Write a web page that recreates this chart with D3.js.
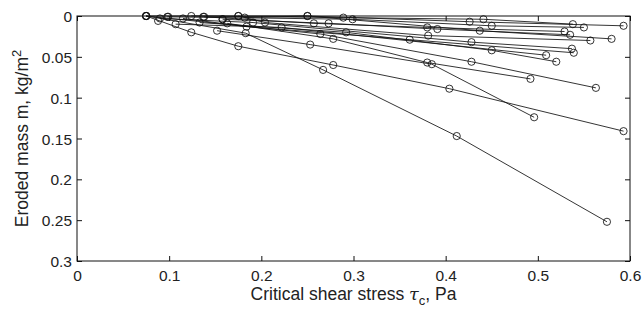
<!DOCTYPE html>
<html>
<head>
<meta charset="utf-8">
<script src="https://cdn.jsdelivr.net/npm/d3@7"></script>
<style>
  body { margin: 0; background: #fff; }
  text { font-family: "Liberation Sans", Arial, sans-serif; fill: #222; }
</style>
</head>
<body>
<svg id="chart"></svg>
<script>
var width = 644;
var height = 309;
var margin = { left: 77, right: 14, top: 16, bottom: 48 };

var xTicks = [0, 0.1, 0.2, 0.3, 0.4, 0.5, 0.6];
var yTicks = [0, 0.05, 0.1, 0.15, 0.2, 0.25, 0.3];

// critical shear stress (Pa) for each test, one array per sample
var tau = [
    [0.075, 0.250, 0.426, 0.593],
    [0.124, 0.289, 0.441, 0.538],
    [0.098, 0.299, 0.450, 0.550],
    [0.138, 0.257, 0.380, 0.529],
    [0.158, 0.273, 0.391, 0.535],
    [0.175, 0.204, 0.381, 0.557],
    [0.182, 0.250, 0.437, 0.580],
    [0.090, 0.191, 0.428, 0.537],
    [0.115, 0.184, 0.361, 0.539],
    [0.107, 0.222, 0.509],
    [0.133, 0.292, 0.450, 0.520],
    [0.163, 0.278, 0.380, 0.492],
    [0.075, 0.264, 0.428, 0.563],
    [0.152, 0.253, 0.385, 0.496],
    [0.075, 0.124, 0.175, 0.278, 0.404, 0.593],
    [0.075, 0.183, 0.267, 0.412, 0.575]
];

// eroded mass (kg/m2), same order
var mass = [
    [0.000, 0.000, 0.007, 0.012],
    [0.000, 0.002, 0.004, 0.010],
    [0.001, 0.004, 0.012, 0.014],
    [0.001, 0.009, 0.014, 0.019],
    [0.004, 0.009, 0.016, 0.023],
    [0.000, 0.008, 0.024, 0.030],
    [0.002, 0.000, 0.018, 0.028],
    [0.003, 0.008, 0.032, 0.040],
    [0.003, 0.013, 0.029, 0.045],
    [0.010, 0.014, 0.048],
    [0.008, 0.020, 0.042, 0.056],
    [0.009, 0.028, 0.057, 0.077],
    [0.000, 0.022, 0.056, 0.088],
    [0.018, 0.035, 0.059, 0.124],
    [0.000, 0.020, 0.037, 0.060, 0.089, 0.141],
    [0.000, 0.021, 0.066, 0.147, 0.252]
];

// a few extra single readings near the start
var tauStart = [0.088, 0.099, 0.137, 0.158, 0.175];
var massStart = [0.006, 0.001, 0.001, 0.004, 0.000];

var svg = d3.select('#chart')
    .attr('width', width)
    .attr('height', height);

var xs = d3.scaleLinear().domain([0, 0.6]).range([margin.left, width - margin.right]);
var ys = d3.scaleLinear().domain([0, 0.3]).range([margin.top, height - margin.bottom]);

var line = d3.line()
    .x(function (d) { return xs(d[0]); })
    .y(function (d) { return ys(d[1]); });

var series = tau.map(function (t, i) {
    return t.map(function (v, j) { return [v, mass[i][j]]; });
});

var plot = svg.append('g');

plot.selectAll('path.series').data(series)
    .enter()
    .append('path')
    .attr('class', 'series')
    .attr('d', line)
    .attr('fill', 'none')
    .attr('stroke', '#111')
    .attr('stroke-width', 0.85);

var pts = [];
series.forEach(function (s) { s.forEach(function (p) { pts.push(p); }); });
tauStart.forEach(function (v, i) { pts.push([v, massStart[i]]); });

plot.selectAll('circle').data(pts)
    .enter()
    .append('circle')
    .attr('cx', function (d) { return xs(d[0]); })
    .attr('cy', function (d) { return ys(d[1]); })
    .attr('r', 3.6)
    .attr('fill', 'none')
    .attr('stroke', '#111')
    .attr('stroke-width', 0.85);

// box axes, ticks pointing inward
var x0 = margin.left, x1 = width - margin.right;
var y0 = margin.top, y1 = height - margin.bottom;

var axBottom = svg.append('g')
    .attr('transform', 'translate(0,' + y1 + ')')
    .call(d3.axisBottom(xs).tickValues(xTicks).tickSize(-5).tickPadding(7)
        .tickFormat(function (d) { return d3.format('~g')(d); }));
var axTop = svg.append('g')
    .attr('transform', 'translate(0,' + y0 + ')')
    .call(d3.axisTop(xs).tickValues(xTicks).tickSize(-5).tickFormat(''));
var axLeft = svg.append('g')
    .attr('transform', 'translate(' + x0 + ',0)')
    .call(d3.axisLeft(ys).tickValues(yTicks).tickSize(-5).tickPadding(5)
        .tickFormat(function (d) { return d3.format('~g')(d); }));
var axRight = svg.append('g')
    .attr('transform', 'translate(' + x1 + ',0)')
    .call(d3.axisRight(ys).tickValues(yTicks).tickSize(-5).tickFormat(''));

[axBottom, axTop, axLeft, axRight].forEach(function (g) {
    g.select('.domain').remove();
    g.selectAll('line').attr('stroke', '#111').attr('stroke-width', 1);
    g.selectAll('text').style('font-size', '15.5px').attr('fill', '#222')
        .style('font-family', '"Liberation Sans", Arial, sans-serif');
});
axBottom.selectAll('text').attr('dy', '0.85em');
axLeft.selectAll('text').attr('dy', '0.36em');

svg.append('rect')
    .attr('x', x0).attr('y', y0)
    .attr('width', x1 - x0).attr('height', y1 - y0)
    .attr('fill', 'none')
    .attr('stroke', '#111')
    .attr('stroke-width', 1);

var xl = svg.append('text')
    .attr('x', (x0 + x1) / 2)
    .attr('y', 300)
    .attr('text-anchor', 'middle')
    .style('font-size', '17.5px');
xl.append('tspan').text('Critical shear stress ');
xl.append('tspan').text('\u03c4').style('font-style', 'italic')
    .style('font-family', '"DejaVu Serif", serif');
xl.append('tspan').text('c').attr('dy', 5).style('font-size', '13px');
xl.append('tspan').text(', Pa').attr('dy', -5);

var yl = svg.append('text')
    .attr('transform', 'translate(28,' + ((y0 + y1) / 2) + ') rotate(-90)')
    .attr('text-anchor', 'middle')
    .style('font-size', '17.5px');
yl.append('tspan').text('Eroded mass m, kg/m');
yl.append('tspan').text('2').attr('dy', -7).style('font-size', '13px');
</script>
</body>
</html>
